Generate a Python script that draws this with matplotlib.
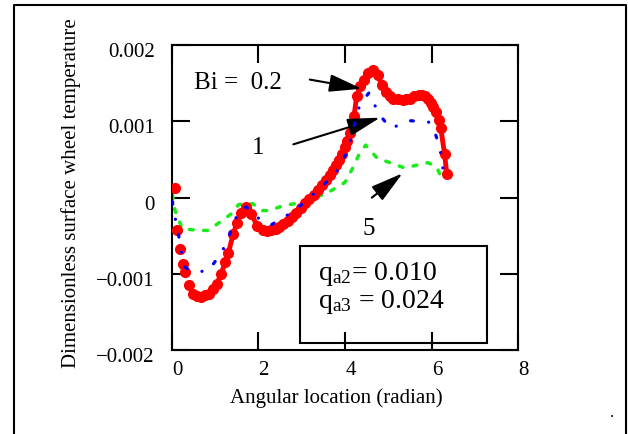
import matplotlib
matplotlib.use("Agg")
import matplotlib.pyplot as plt
from matplotlib.patches import Rectangle
from matplotlib.lines import Line2D
from matplotlib.transforms import ScaledTranslation

plt.rcParams["font.family"] = "Liberation Serif"
plt.rcParams["mathtext.fontset"] = "custom"
plt.rcParams["mathtext.rm"] = "Liberation Serif"
plt.rcParams["mathtext.it"] = "Liberation Serif:italic"
plt.rcParams["lines.scale_dashes"] = False

# Bi = 0.2 (red dots)
x_red = [0.07, 0.12, 0.19, 0.26, 0.31, 0.40, 0.49, 0.58, 0.68, 0.77, 0.86, 0.96, 1.05, 1.14,
         1.24, 1.31, 1.42, 1.51, 1.61, 1.72, 1.84, 1.98, 2.12, 2.21, 2.30, 2.40, 2.49, 2.58,
         2.68, 2.77, 2.86, 2.98, 3.09, 3.18, 3.28, 3.38, 3.47, 3.56, 3.65, 3.72, 3.79, 3.86,
         3.93, 4.00, 4.04, 4.12, 4.21, 4.27, 4.35, 4.44, 4.53, 4.65, 4.76, 4.85, 4.94, 5.03,
         5.12, 5.22, 5.33, 5.42, 5.51, 5.60, 5.70, 5.78, 5.84, 5.91, 5.98, 6.04, 6.10, 6.16,
         6.21, 6.30, 6.35]
y_red = [0.13, -0.43, -0.67, -0.87, -0.98, -1.15, -1.26, -1.29, -1.30, -1.28, -1.26, -1.20,
         -1.13, -1.00, -0.85, -0.73, -0.48, -0.33, -0.20, -0.12, -0.22, -0.37, -0.43, -0.44,
         -0.43, -0.41, -0.39, -0.35, -0.30, -0.25, -0.20, -0.14, -0.07, -0.02, 0.04, 0.10,
         0.17, 0.23, 0.30, 0.36, 0.43, 0.50, 0.57, 0.66, 0.74, 0.85, 1.07, 1.33, 1.46, 1.54,
         1.63, 1.67, 1.61, 1.48, 1.39, 1.34, 1.30, 1.29, 1.28, 1.29, 1.30, 1.33, 1.35, 1.35,
         1.33, 1.29, 1.24, 1.19, 1.13, 1.02, 0.92, 0.57, 0.31]

# Bi = 1 (blue dash-dot)
x_blue = [0.02, 0.04, 0.11, 0.16, 0.20, 0.31, 0.43, 0.83, 1.11, 1.29, 1.38, 1.57, 1.73, 1.85,
          2.29, 2.61, 2.84, 3.12, 3.48, 3.85, 4.07, 4.31, 4.34, 4.56, 4.77, 5.05, 5.51, 5.95,
          6.07, 6.19, 6.26]
y_blue = [-0.05, -0.17, -0.33, -0.48, -0.65, -0.91, -0.96, -0.97, -0.76, -0.57, -0.41, -0.15,
          -0.12, -0.22, -0.36, -0.25, -0.17, -0.03, 0.15, 0.37, 0.63, 1.15, 1.22, 1.38, 1.11,
          0.91, 1.01, 0.99, 0.87, 0.65, 0.39]

# Bi = 5 (green dashed)
x_green = [0.02, 0.08, 0.25, 0.67, 0.85, 1.36, 1.55, 1.88, 2.06, 2.24, 2.61, 2.84, 3.21, 3.53,
           4.00, 4.18, 4.32, 4.48, 4.74, 5.38, 5.91, 6.11, 6.26]
y_green = [0.04, -0.17, -0.41, -0.43, -0.43, -0.22, -0.09, -0.08, -0.17, -0.17, -0.10, -0.08,
           0.00, 0.04, 0.20, 0.39, 0.56, 0.69, 0.52, 0.39, 0.46, 0.41, 0.22]

x_ticks = [0, 2, 4, 6, 8]
y_ticks = [-0.002, -0.001, 0, 0.001, 0.002]
y_tick_labels = ["\u22120.002", "\u22120.001", "0", "0.001", "0.002"]

fig = plt.figure(figsize=(6.28, 4.34), dpi=100)
ax = fig.add_axes([0.2732, 0.1935, 0.5521, 0.7021])

s = 0.001
yr = [v * s for v in y_red]
# the dots overlap into a chain from the trough onwards
ax.plot(x_red[5:], yr[5:], "-", color="red", lw=3.5, solid_capstyle="round", zorder=3)
ax.plot(x_red, yr, "o", color="red", markersize=7, zorder=3)
ax.plot(x_blue, [v * s for v in y_blue], color="blue", lw=2.3, dashes=(2, 11, 0.1, 11),
        dash_capstyle="round", zorder=4)
ax.plot(x_green, [v * s for v in y_green], color="#1aeb1a", lw=2.5, dashes=(2.8, 7.5),
        dash_capstyle="round", zorder=2)

ax.set_xlim(0, 8)
ax.set_ylim(-0.002, 0.002)
ax.set_xticks(x_ticks)
ax.set_yticks(y_ticks)
ax.set_yticklabels(y_tick_labels)
ax.tick_params(direction="in", length=13, width=1.5, top=True, right=True,
               labelsize=15, pad=12)
ax.tick_params(axis="x", pad=8)
for sp in ax.spines.values():
    sp.set_linewidth(1.5)
for lab in ax.get_yticklabels():
    lab.set_transform(lab.get_transform() + ScaledTranslation(0, -0.05, fig.dpi_scale_trans))
for lab in ax.get_xticklabels():
    lab.set_transform(lab.get_transform() + ScaledTranslation(0.055, 0, fig.dpi_scale_trans))

ax.set_xlabel("Angular location (radian)", fontsize=15)
ax.set_ylabel("Dimensionless surface wheel temperature", fontsize=15)
ax.xaxis.set_label_coords(0.474, -0.125)
ax.yaxis.set_label_coords(-0.262, 0.515)

arrow = dict(arrowstyle="-|>,head_length=1.0,head_width=0.27", mutation_scale=20,
             color="black", lw=1.5, shrinkA=0, shrinkB=0)
ax.text(0.52, 0.00150, "Bi =  0.2", fontsize=18, va="center", ha="left")
ax.annotate("", xy=(4.39, 0.00143), xytext=(3.19, 0.00155), arrowprops=arrow)
ax.text(1.99, 0.00065, "1", fontsize=18, va="center", ha="center")
ax.annotate("", xy=(4.81, 0.00105), xytext=(2.81, 0.00070), arrowprops=arrow)
ax.text(4.56, -0.000415, "5", fontsize=18, va="center", ha="center")
ax.annotate("", xy=(5.33, 0.00032), xytext=(4.62, 0.0), arrowprops=arrow)

ax.add_patch(Rectangle((2.96, -0.00191), 4.32, 0.00128, fill=False, lw=1.5,
                       edgecolor="black", zorder=5))
ax.text(3.38, -0.00100, r"q$_{\mathrm{a2}}$= 0.010", fontsize=20, va="center")
ax.text(3.38, -0.00137, r"q$_{\mathrm{a3}}$ = 0.024", fontsize=20, va="center")

# outer frame (open at the bottom)
fig.add_artist(Line2D([0.023, 0.023, 0.997, 0.997], [0.0, 0.988, 0.988, 0.0],
                      transform=fig.transFigure, color="black", lw=1.5))
fig.text(0.975, 0.03, ".", fontsize=12, ha="center", va="bottom")

fig.savefig("out.png", dpi=100)
